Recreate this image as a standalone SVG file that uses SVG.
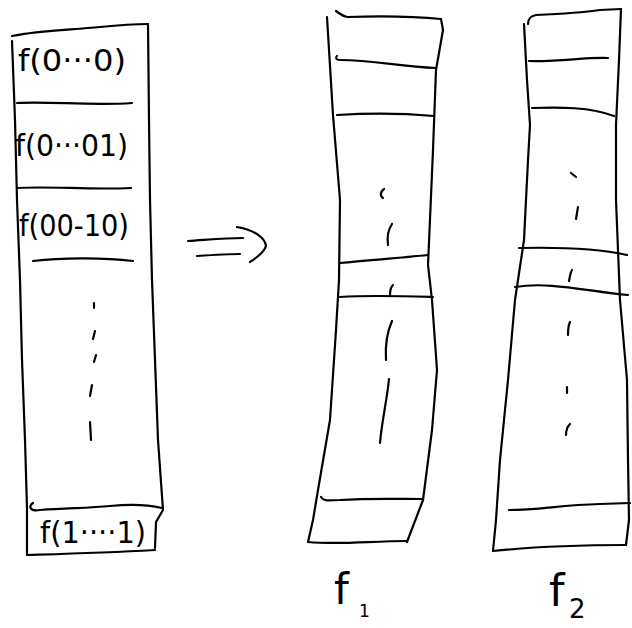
<svg xmlns="http://www.w3.org/2000/svg" width="632" height="628" viewBox="0 0 632 628">
<style>
.s{fill:none;stroke:#000;stroke-width:2.2;stroke-linecap:round;stroke-linejoin:round}
.t{font-family:"DejaVu Sans","Liberation Sans",sans-serif;font-size:30px;fill:#000}
.l{font-family:"DejaVu Sans","Liberation Sans",sans-serif;fill:#000}
</style>
<rect width="632" height="628" fill="#fff"/>
<g id="table">
<path class="s" d="M12,36 C40,30 70,30 100,27 C120,25 135,24 148,24"/>
<path class="s" d="M12,41 L15,120 L17,200 L20,280 L22,360 L25,440 L27,508 L27,555"/>
<path class="s" d="M148,24 L149,120 L150,200 L152,280 L155,360 L158,440 L163,510 L156,522 L155,548"/>
<path class="s" d="M27,555 C60,554 100,553 155,550"/>
<path class="s" d="M17,103 C50,101 90,106 132,103"/>
<path class="s" d="M17,188 C50,186 90,190 131,188"/>
<path class="s" d="M33,261 C60,258 100,257 133,261"/>
<path class="s" d="M33,503 C28,506 30,512 40,510 C70,508 90,508 110,506 C130,504 145,504 162,508"/>
<path class="s" d="M94,303 L94,308 M95,331 L93,339 M96,355 L94,362 M92,385 L90,396 M90,422 L91,440"/>
<text class="t" x="18" y="71" font-size="32" textLength="108" lengthAdjust="spacingAndGlyphs">f(0···0)</text>
<text class="t" x="15" y="156" font-size="32" textLength="113" lengthAdjust="spacingAndGlyphs">f(0···01)</text>
<text class="t" x="19" y="236" font-size="33" textLength="110" lengthAdjust="spacingAndGlyphs">f(00-10)</text>
<text class="t" x="40" y="543" font-size="31" textLength="106" lengthAdjust="spacingAndGlyphs">f(1····1)</text>
</g>
<g id="connectors">
<path class="s" d="M188,241 C205,240 225,238 243,238"/>
<path class="s" d="M197,256 C212,255 228,254 240,254"/>
<path class="s" d="M237,227 C255,230 265,238 266,246 C264,253 256,258 250,262"/>
</g>
<g id="f1">
<path class="s" d="M336,11 C340,14 344,17 348,17 C380,16 410,16 441,19"/>
<path class="s" d="M327,17 L333,115 L340,200 L339,280 L336,330 L330,420 L318,490 L313,520 L308,542"/>
<path class="s" d="M441,19 L443,30 L436,70 L433,150 L428,265 L432,300 L437,370 L432,430 L423,500 L407,542"/>
<path class="s" d="M308,542 C340,545 370,541 407,541"/>
<path class="s" d="M337,56 C335,58 336,60 340,60 C375,60 400,67 436,68"/>
<path class="s" d="M337,115 C370,113 400,113 434,116"/>
<path class="s" d="M340,263 C370,260 400,258 428,255"/>
<path class="s" d="M340,297 C370,295 400,296 433,297"/>
<path class="s" d="M321,497 C324,502 330,500 340,500 C370,498 400,499 423,499"/>
<path class="s" d="M384,189 C380,192 380,196 383,198"/>
<path class="s" d="M392,224 C388,230 387,238 388,245"/>
<path class="s" d="M393,285 C390,288 390,292 390,295"/>
<path class="s" d="M392,321 C388,330 385,345 386,360"/>
<path class="s" d="M389,379 C387,400 382,420 380,443"/>
<text class="l" x="334" y="604" font-size="42">f</text>
<text class="l" x="359" y="617" font-size="17">1</text>
</g>
<g id="f2">
<path class="s" d="M528,24 C528,20 530,16 536,15 C560,14 580,13 600,10 L621,9"/>
<path class="s" d="M524,24 L527,80 L530,125 L528,160 L524,240 L515,300 L508,380 L500,460 L496,520 L493,551"/>
<path class="s" d="M621,9 L619,60 L616,125 L616,200 L620,300 L627,380 L628,460 L629,520 L626,545"/>
<path class="s" d="M493,551 C530,547 570,545 626,545"/>
<path class="s" d="M529,61 C560,62 585,57 608,58"/>
<path class="s" d="M532,108 C560,107 590,107 614,116"/>
<path class="s" d="M519,248 C560,247 600,249 627,255"/>
<path class="s" d="M515,287 C550,281 590,292 628,295"/>
<path class="s" d="M509,510 C540,510 560,505 600,504 L630,503"/>
<path class="s" d="M571,173 L576,177"/>
<path class="s" d="M578,207 L576,219"/>
<path class="s" d="M572,270 C570,273 570,277 569,281"/>
<path class="s" d="M570,322 C568,326 568,330 568,335"/>
<path class="s" d="M567,387 L567,393"/>
<path class="s" d="M570,424 C567,427 566,431 566,435"/>
<text class="l" x="549" y="606" font-size="44">f</text>
<text class="l" x="569" y="618" font-size="26">2</text>
</g>
</svg>
